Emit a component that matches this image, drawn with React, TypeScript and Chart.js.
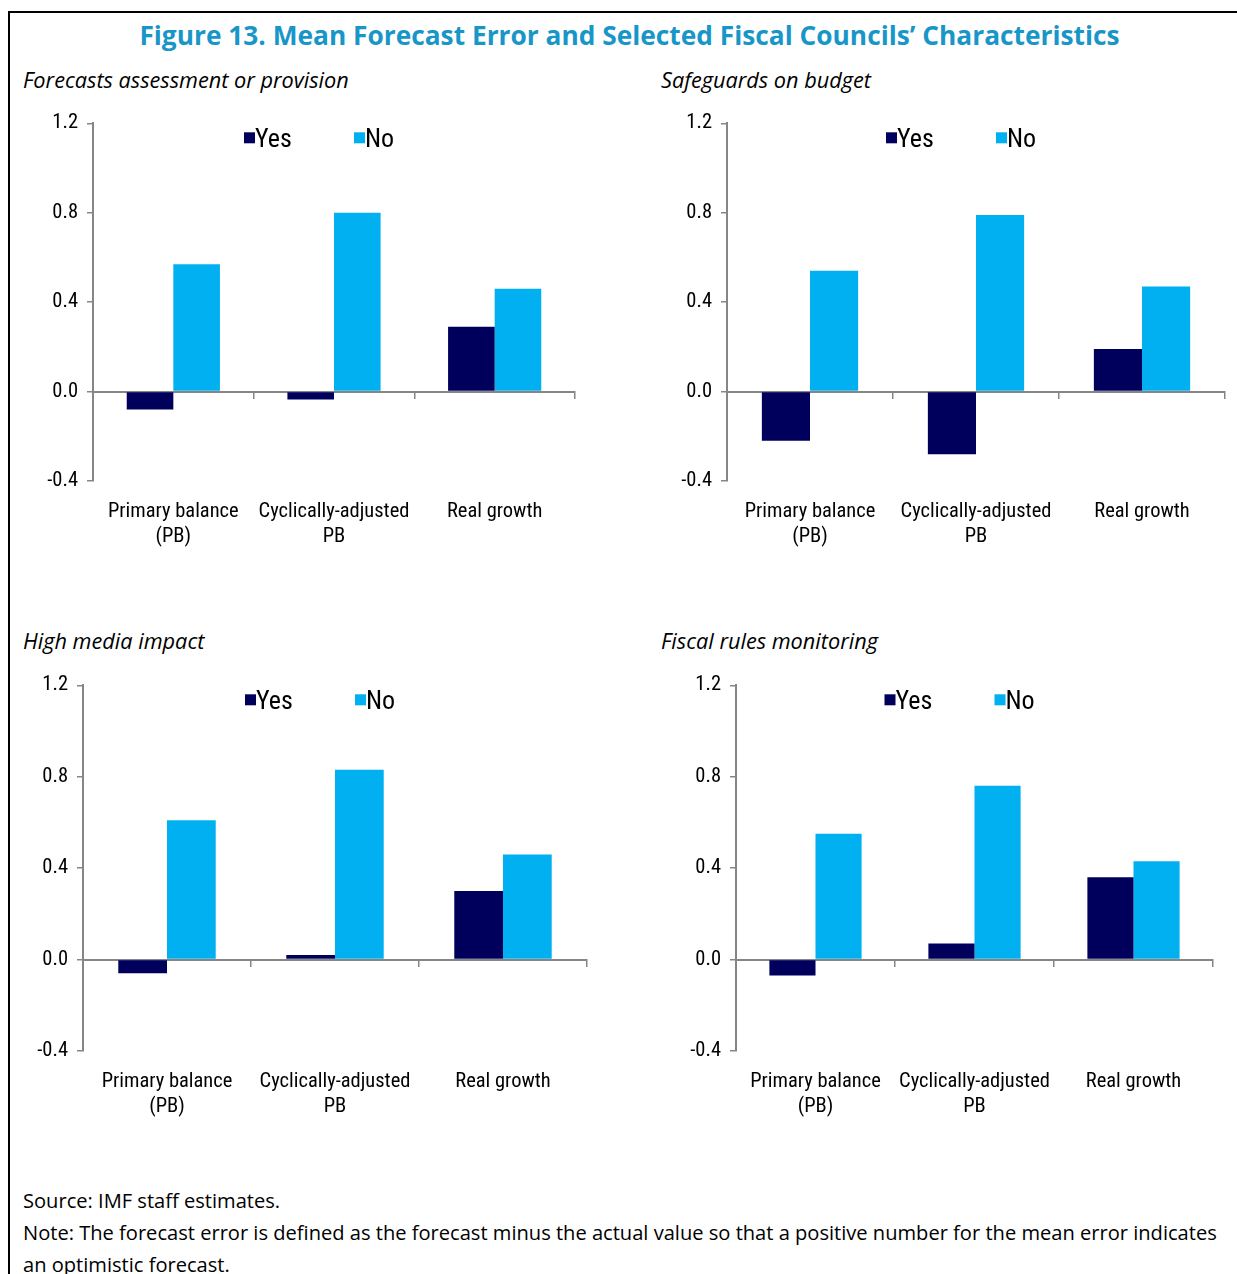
import React, { useEffect, useRef } from "react";
import { Chart, registerables } from "chart.js";

Chart.register(...registerables);

// ---------- data ----------
const categories: (string | string[])[] = [["Primary balance", "(PB)"], ["Cyclically-adjusted", "PB"], "Real growth"];
const seriesNames = ["Yes", "No"];
const yTicks = [-0.4, 0, 0.4, 0.8, 1.2];

const forecastsYes = [-0.08, -0.035, 0.29];
const forecastsNo = [0.57, 0.8, 0.46];
const safeguardsYes = [-0.22, -0.28, 0.19];
const safeguardsNo = [0.54, 0.79, 0.47];
const mediaYes = [-0.06, 0.02, 0.3];
const mediaNo = [0.61, 0.83, 0.46];
const rulesYes = [-0.07, 0.07, 0.36];
const rulesNo = [0.55, 0.76, 0.43];

const panelTitles = ["Forecasts assessment or provision", "Safeguards on budget", "High media impact", "Fiscal rules monitoring"];
const titleText = "Figure 13. Mean Forecast Error and Selected Fiscal Councils\u2019 Characteristics";
const sourceText = "Source: IMF staff estimates.";
const noteText =
  "Note: The forecast error is defined as the forecast minus the actual value so that a positive number for the mean error indicates an optimistic forecast.";

// ---------- style ----------
const YES_COLOR = "#00005C";
const NO_COLOR = "#00B0F0";
const AXIS_COLOR = "#868686";
const NARROW = "'Liberation Sans Narrow', 'Arial Narrow', 'Roboto Condensed', sans-serif";
const UI_FONT = "'Open Sans', 'Noto Sans', sans-serif";

const Y_W = 70;
const X_H = 75;
const PT = 20;
const PR = 12;

const insideLegend = {
  id: "insideLegend",
  afterDraw(chart: any) {
    const { ctx, chartArea } = chart;
    const cx = (chartArea.left + chartArea.right) / 2;
    ctx.save();
    chart.data.datasets.forEach((ds: any, i: number) => {
      const x = cx - 90 + i * 110;
      ctx.fillStyle = ds.backgroundColor;
      ctx.fillRect(x, chartArea.top + 9, 11, 11);
      ctx.fillStyle = "#000";
      ctx.font = `26px ${NARROW}`;
      ctx.textBaseline = "alphabetic";
      ctx.textAlign = "left";
      ctx.fillText(ds.label, x + 11, chartArea.top + 24);
    });
    ctx.restore();
  },
};

type PanelProps = {
  yes: number[];
  no: number[];
  axisX: number;
  right: number;
  top: number;
  bottom: number;
};

function Panel({ yes, no, axisX, right, top, bottom }: PanelProps) {
  const ref = useRef<HTMLCanvasElement>(null);
  const left = axisX - Y_W;
  const cTop = top - PT;
  const width = right + PR - left;
  const height = bottom + X_H - cTop;

  useEffect(() => {
    if (!ref.current) return;
    const font = { family: NARROW, size: 20.5 };
    const chart = new Chart(ref.current, {
      type: "bar",
      data: {
        labels: categories as any,
        datasets: [
          { label: seriesNames[0], data: yes, backgroundColor: YES_COLOR, borderWidth: 0, xAxisID: "x", yAxisID: "y" },
          { label: seriesNames[1], data: no, backgroundColor: NO_COLOR, borderWidth: 0, xAxisID: "x", yAxisID: "y" },
        ],
      },
      options: {
        responsive: false,
        animation: false,
        devicePixelRatio: 1,
        layout: { padding: { left: 0, top: PT, right: PR, bottom: 0 } },
        plugins: { legend: { display: false }, tooltip: { enabled: false }, title: { display: false } },
        datasets: { bar: { categoryPercentage: 0.58, barPercentage: 1.0 } },
        scales: {
          x: {
            type: "category",
            position: "bottom",
            offset: true,
            grid: { display: false, drawTicks: false },
            border: { display: false },
            ticks: { font, color: "#000", padding: 19, maxRotation: 0, autoSkip: false },
            afterFit: (s: any) => {
              s.height = X_H;
            },
          },
          x2: {
            type: "category",
            position: { y: 0 } as any,
            offset: true,
            grid: { display: true, drawOnChartArea: false, drawTicks: true, tickLength: 6, color: AXIS_COLOR, lineWidth: 1.5, offset: true },
            border: { display: true, color: AXIS_COLOR, width: 2 },
            ticks: { display: false },
          },
          y: {
            type: "linear",
            min: yTicks[0],
            max: yTicks[yTicks.length - 1],
            afterBuildTicks: (s: any) => {
              s.ticks = yTicks.map((v) => ({ value: v }));
            },
            ticks: { font, color: "#000", padding: 9, callback: (v: any) => Number(v).toFixed(1) },
            grid: { display: true, drawOnChartArea: false, drawTicks: true, tickLength: 6, color: AXIS_COLOR, lineWidth: 1.5 },
            border: { display: true, color: AXIS_COLOR, width: 2 },
            afterFit: (s: any) => {
              s.width = Y_W;
            },
          },
        } as any,
      },
      plugins: [insideLegend],
    });
    return () => chart.destroy();
  }, []);

  return (
    <canvas
      ref={ref}
      width={width}
      height={height}
      style={{ position: "absolute", left, top: cTop, width, height }}
    />
  );
}

export default function App() {
  const subStyle: React.CSSProperties = {
    position: "absolute",
    fontFamily: UI_FONT,
    fontStyle: "italic",
    fontSize: 21.7,
    lineHeight: "28px",
    color: "#000",
    whiteSpace: "nowrap",
  };
  return (
    <div style={{ position: "absolute", left: 0, top: 0, width: 1237, height: 1274, overflow: "hidden", background: "#fff", fontFamily: UI_FONT }}>
      <div
        style={{
          position: "absolute",
          left: 8,
          top: 11,
          width: 1300,
          height: 1400,
          borderLeft: "2px solid #000",
          borderTop: "2px solid #000",
        }}
      />
      <div
        style={{
          position: "absolute",
          left: 8,
          top: 19,
          width: 1243,
          textAlign: "center",
          fontFamily: UI_FONT,
          fontWeight: 700,
          fontSize: 26.3,
          lineHeight: "32px",
          color: "#1996C8",
          whiteSpace: "nowrap",
        }}
      >
        {titleText}
      </div>
      <div style={{ ...subStyle, left: 23, top: 66 }}>{panelTitles[0]}</div>
      <div style={{ ...subStyle, left: 661, top: 66 }}>{panelTitles[1]}</div>
      <div style={{ ...subStyle, left: 23, top: 627 }}>{panelTitles[2]}</div>
      <div style={{ ...subStyle, left: 661, top: 627 }}>{panelTitles[3]}</div>

      <Panel yes={forecastsYes} no={forecastsNo} axisX={93} right={575} top={122} bottom={481} />
      <Panel yes={safeguardsYes} no={safeguardsNo} axisX={727} right={1225} top={122} bottom={481} />
      <Panel yes={mediaYes} no={mediaNo} axisX={83} right={587} top={684} bottom={1051} />
      <Panel yes={rulesYes} no={rulesNo} axisX={736} right={1213} top={684} bottom={1051} />

      <div
        style={{
          position: "absolute",
          left: 23,
          top: 1185,
          width: 1200,
          fontFamily: UI_FONT,
          fontSize: 20.1,
          lineHeight: "32px",
          color: "#000",
        }}
      >
        <div>{sourceText}</div>
        <div>{noteText}</div>
      </div>
    </div>
  );
}
